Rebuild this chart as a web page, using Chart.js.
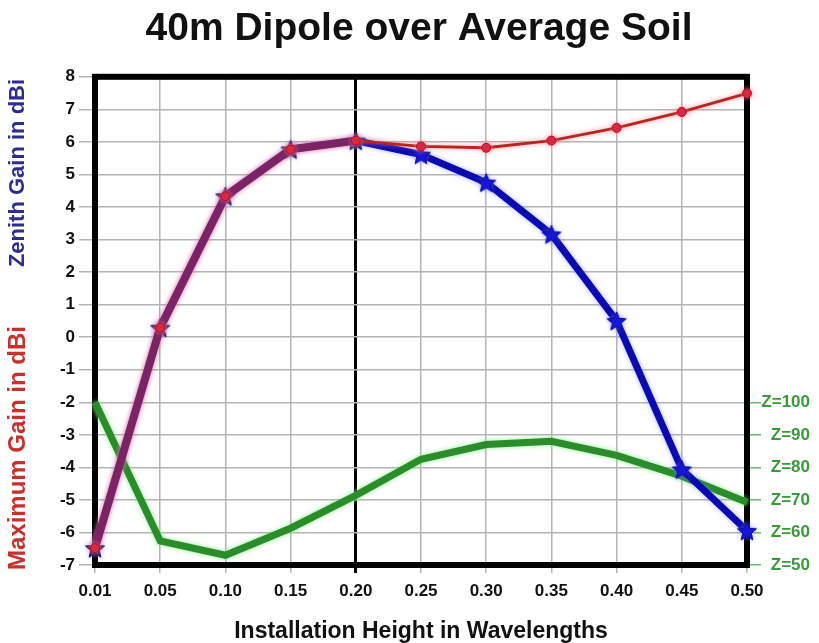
<!DOCTYPE html>
<html><head><meta charset="utf-8">
<script src="https://cdn.jsdelivr.net/npm/chart.js@4/dist/chart.umd.min.js"></script>
<style>html,body{margin:0;padding:0;background:#fff}#wrap{width:819px;height:643px}</style>
</head><body><div id="wrap"><canvas id="c" width="819" height="643"></canvas></div>
<script>
const heights = ['0.01','0.05','0.10','0.15','0.20','0.25','0.30','0.35','0.40','0.45','0.50'];
const maxGain = [-6.48, 0.29, 4.33, 5.77, 6.04, 5.86, 5.82, 6.04, 6.43, 6.92, 7.49];
const zenithGain = [-6.48, 0.29, 4.33, 5.77, 6.04, 5.61, 4.75, 3.16, 0.50, -4.06, -5.95];
const impedanceZ = [100, 57.4, 53, 61.3, 71.4, 82.5, 87, 88, 83.7, 77.3, 69.3];
const zLabels = [50, 60, 70, 80, 90, 100];

const FONT = 'Liberation Sans, Arial, Helvetica, sans-serif';
const OVERLAP = 4; // last index where both gains coincide

function makeStar(r, fill, stroke) {
  const s = Math.ceil(r * 2 + 4);
  const c = document.createElement('canvas');
  c.width = c.height = s;
  const g = c.getContext('2d');
  g.translate(s / 2, s / 2 + 1);
  g.beginPath();
  for (let i = 0; i < 10; i++) {
    const rad = i % 2 ? r * 0.45 : r;
    const a = -Math.PI / 2 + i * Math.PI / 5;
    g.lineTo(rad * Math.cos(a), rad * Math.sin(a));
  }
  g.closePath();
  g.fillStyle = fill; g.fill();
  g.strokeStyle = stroke; g.lineWidth = 1; g.stroke();
  return c;
}
const darkStar = makeStar(10, '#32257a', '#1a1050');
const blueStar = makeStar(10, '#1616d8', '#0a0a90');

const framePlugin = {
  id: 'frame',
  beforeDatasetsDraw(chart) {
    const {ctx, chartArea: a} = chart;
    ctx.save();
    ctx.strokeStyle = '#000';
    ctx.lineWidth = 6;
    ctx.lineJoin = 'miter';
    ctx.strokeRect(a.left, a.top, a.right - a.left, a.bottom - a.top);
    ctx.restore();
  },
  beforeDatasetDraw(chart, args) {
    const ctx = chart.ctx;
    ctx.save();
    const glow = ['rgba(255,120,140,0.8)', 'rgba(120,120,255,0.6)', 'rgba(140,230,140,0.9)'];
    ctx.shadowColor = glow[args.index];
    ctx.shadowBlur = 5;
  },
  afterDatasetDraw(chart) { chart.ctx.restore(); },
  afterDraw(chart) {
    const ctx = chart.ctx;
    ctx.save();
    ctx.textAlign = 'center';
    ctx.textBaseline = 'middle';
    ctx.translate(18, 0);
    ctx.rotate(-Math.PI / 2);
    ctx.font = 'bold 22px ' + FONT;
    ctx.fillStyle = '#2d2d90';
    ctx.fillText('Zenith Gain in dBi', -173, 0);
    ctx.font = 'bold 24px ' + FONT;
    ctx.fillStyle = '#c8302c';
    ctx.fillText('Maximum Gain in dBi', -448, 0);
    ctx.restore();
  }
};

new Chart(document.getElementById('c'), {
  type: 'line',
  data: {
    labels: heights,
    datasets: [
      {
        label: 'Maximum Gain',
        data: maxGain,
        yAxisID: 'y',
        borderColor: '#b82620',
        borderWidth: 2.8,
        segment: {
          borderColor: c => c.p1DataIndex <= OVERLAP ? '#7a2466' : undefined,
          borderWidth: c => c.p1DataIndex <= OVERLAP ? 8 : undefined
        },
        pointStyle: 'circle',
        pointRadius: 4.5,
        pointBackgroundColor: '#d41e3a',
        pointBorderColor: '#b01020',
        pointBorderWidth: 1,
        tension: 0,
        clip: false
      },
      {
        label: 'Zenith Gain',
        data: zenithGain,
        yAxisID: 'y',
        borderColor: '#0a0ab0',
        borderWidth: 7,
        pointStyle: c => c.dataIndex <= OVERLAP ? darkStar : blueStar,
        pointRadius: 10,
        tension: 0,
        clip: false
      },
      {
        label: 'Z',
        data: impedanceZ,
        yAxisID: 'y2',
        borderColor: '#2a8c2a',
        borderWidth: 7,
        pointRadius: 0,
        tension: 0,
        clip: false
      }
    ]
  },
  options: {
    responsive: false,
    animation: false,
    events: [],
    layout: {padding: {left: 28, right: 9}},
    plugins: {
      legend: {display: false},
      tooltip: {enabled: false},
      title: {
        display: true,
        text: '40m Dipole over Average Soil',
        color: '#111',
        font: {size: 39, weight: 'bold', family: FONT},
        padding: {top: 6, bottom: 24}
      }
    },
    scales: {
      x: {
        type: 'category',
        offset: false,
        border: {display: false},
        grid: {
          color: c => c.index === OVERLAP ? '#000' : '#b4b4b4',
          lineWidth: c => c.index === OVERLAP ? 3 : 1.5,
          tickLength: 8
        },
        ticks: {color: '#111', font: {size: 17, weight: 'bold', family: FONT}, padding: 8, maxRotation: 0, autoSkip: false},
        title: {display: true, text: 'Installation Height in Wavelengths', color: '#111',
          font: {size: 23, weight: 'bold', family: FONT, lineHeight: 1.0}, padding: {top: 0, bottom: 0}},
        afterFit: s => { s.height = 78; }
      },
      y: {
        position: 'left',
        min: -7, max: 8,
        border: {display: false},
        grid: {color: '#b4b4b4', lineWidth: 1.5, tickLength: 16},
        ticks: {stepSize: 1, color: '#111', font: {size: 17, weight: 'bold', family: FONT}, padding: 4},
        afterFit: s => { s.width = 67; }
      },
      y2: {
        position: 'right',
        min: 50, max: 200,
        border: {display: false},
        grid: {drawOnChartArea: false, tickLength: 14,
          color: c => (c.tick && c.tick.value <= 100) ? '#6cb86c' : 'rgba(0,0,0,0)', lineWidth: 1.5},
        ticks: {stepSize: 10, color: '#3a9a3a', font: {size: 17, weight: 'bold', family: FONT}, padding: 2,
          crossAlign: 'far',
          callback: v => zLabels.includes(v) ? 'Z=' + v : ''},
        afterFit: s => { s.width = 63; }
      }
    }
  },
  plugins: [framePlugin]
});
</script>
</body></html>
